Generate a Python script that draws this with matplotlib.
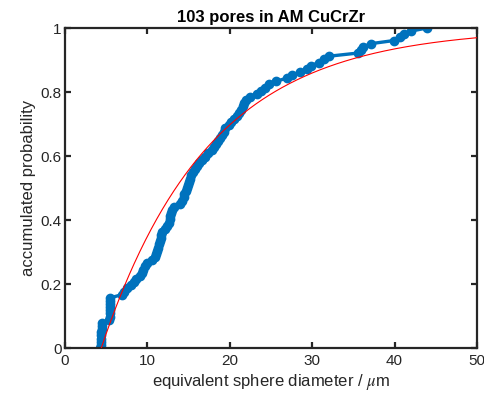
import numpy as np
import matplotlib
matplotlib.use("Agg")
import matplotlib.pyplot as plt

plt.rcParams['font.family'] = ['Liberation Sans', 'DejaVu Sans']
plt.rcParams['mathtext.fontset'] = 'stix'

# sorted equivalent sphere diameters (um)
diameters = [4.30, 4.32, 4.35, 4.37, 4.40, 4.42, 4.45, 4.47, 4.50,
             5.40, 5.42, 5.44, 5.45, 5.46, 5.47, 5.48, 5.50,
             6.90, 7.10, 7.50, 8.05, 8.35, 8.60, 9.05, 9.30, 9.50, 9.70,
             10.0, 10.6, 10.9, 11.0, 11.15, 11.25, 11.35, 11.5, 11.6, 11.7,
             11.8, 12.1, 12.4, 12.6, 12.7, 12.8, 12.9, 13.0, 13.2, 14.0,
             14.2, 14.4, 14.5, 14.65, 14.8, 14.95, 15.05, 15.2, 15.35, 15.5,
             15.8, 16.0, 16.3, 16.6, 17.0, 17.4, 17.9, 18.1, 18.3, 18.6,
             18.85, 19.1, 19.3, 19.45, 19.9, 20.2, 20.5, 20.85, 21.1, 21.4,
             21.55, 21.75, 22.0, 22.4, 23.3, 23.8, 24.3, 24.7, 25.6, 26.9,
             27.6, 28.5, 29.4, 29.9, 30.8, 31.4, 32.0, 35.5, 35.9, 36.2,
             37.1, 39.9, 40.6, 41.1, 42.0, 43.9]

# fitted shifted-exponential distribution parameters
fit_x0 = 4.4
fit_scale = 13.05

title = "103 pores in AM CuCrZr"
xlabel = "equivalent sphere diameter / $\\mu$m"
ylabel = "accumulated probability"
xticks = [0, 10, 20, 30, 40, 50]
yticks = [0, 0.2, 0.4, 0.6, 0.8, 1]
yticklabels = ["0", "0.2", "0.4", "0.6", "0.8", "1"]

d = np.array(diameters)
n = len(d)
prob = np.arange(n) / (n - 1)

xf = np.linspace(fit_x0, 50, 400)
yf = 1 - np.exp(-(xf - fit_x0) / fit_scale)

fig = plt.figure(figsize=(4.84, 3.97), dpi=100)
ax = fig.add_axes([65/484, 49/397, 412/484, 320/397])

ax.plot(d, prob, '-o', color='#0072BD', lw=2.4, ms=6, mfc='#0072BD', mec='#0072BD', zorder=2)
ax.plot(xf, yf, '-', color='red', lw=0.8, zorder=3)

ax.set_xlim(0, 50)
ax.set_ylim(0, 1)
ax.set_xticks(xticks)
ax.set_yticks(yticks)
ax.set_yticklabels(yticklabels)

edge = '#262626'
for s in ax.spines.values():
    s.set_linewidth(1.6)
    s.set_color(edge)
ax.tick_params(direction='in', length=4, width=1.6, top=True, right=True,
               colors=edge, labelsize=11)
ax.tick_params(axis='y', pad=2.5)
ax.tick_params(axis='x', pad=4)
for lab in ax.get_xticklabels() + ax.get_yticklabels():
    lab.set_color(edge)

ax.set_title(title, fontsize=12, fontweight='bold', pad=4, color='black')
ax.set_xlabel(xlabel, fontsize=12, color=edge, labelpad=3)
ax.set_ylabel(ylabel, fontsize=12, color=edge, labelpad=3.5)

fig.savefig("out.png", dpi=100)
